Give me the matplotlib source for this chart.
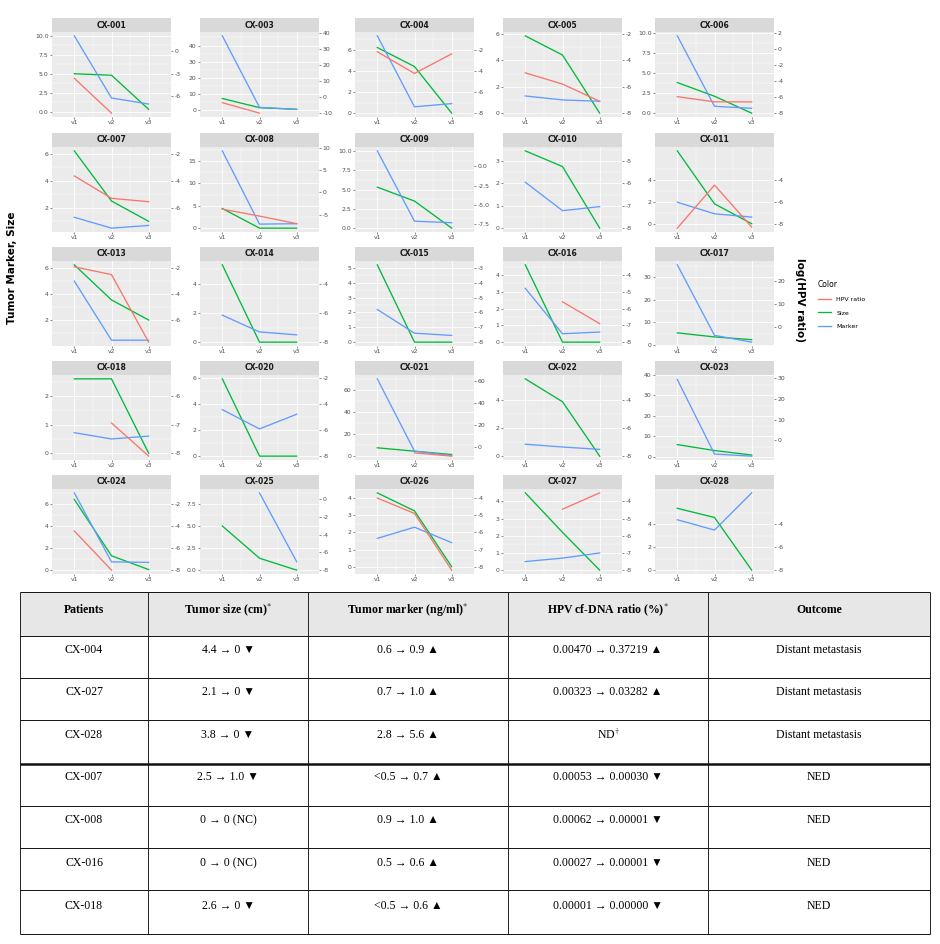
import numpy as np
import matplotlib.pyplot as plt
from matplotlib.lines import Line2D
from matplotlib.patches import Rectangle

nan = np.nan

# ---- chart data ----
patients = ['CX-001', 'CX-003', 'CX-004', 'CX-005', 'CX-006',
            'CX-007', 'CX-008', 'CX-009', 'CX-010', 'CX-011',
            'CX-013', 'CX-014', 'CX-015', 'CX-016', 'CX-017',
            'CX-018', 'CX-020', 'CX-021', 'CX-022', 'CX-023',
            'CX-024', 'CX-025', 'CX-026', 'CX-027', 'CX-028']
visits = ['v1', 'v2', 'v3']

size_vals = [[5.0, 4.8, 0.3], [7.1, 1.4, 0.4], [6.2, 4.4, 0.0], [5.85, 4.4, 0.0], [3.8, 2.1, 0.0],
             [6.2, 2.5, 1.0], [4.4, 0.0, 0.0], [5.3, 3.5, 0.0], [3.45, 2.75, 0.0], [6.6, 1.8, 0.0],
             [6.25, 3.55, 2.0], [5.3, 0.0, 0.0], [5.2, 0.0, 0.0], [4.6, 0.0, 0.0], [5.3, 3.5, 2.3],
             [2.6, 2.6, 0.0], [5.9, 0.0, 0.0], [7.1, 4.0, 1.0], [5.5, 3.87, 0.0], [6.0, 3.1, 0.9],
             [6.4, 1.3, 0.05], [5.0, 1.35, 0.0], [4.3, 3.25, 0.0], [4.5, 2.2, 0.0], [5.4, 4.6, 0.0]]

marker_vals = [[10.0, 1.8, 1.0], [46.0, 1.6, 0.3], [7.3, 0.6, 0.9], [1.3, 1.0, 0.9], [9.6, 0.85, 0.6],
               [1.3, 0.5, 0.7], [17.3, 0.9, 1.0], [10.0, 0.9, 0.7], [2.05, 0.78, 0.96], [1.95, 0.9, 0.6],
               [5.0, 0.45, 0.45], [1.85, 0.7, 0.5], [2.2, 0.6, 0.45], [3.2, 0.5, 0.6], [35.3, 4.2, 1.2],
               [0.72, 0.5, 0.6], [3.55, 2.08, 3.2], [70.0, 4.0, 0.0], [0.85, 0.65, 0.48], [37.8, 1.4, 0.35],
               [7.0, 0.75, 0.7], [nan, 8.75, 0.95], [1.65, 2.3, 1.4], [0.5, 0.7, 1.0], [4.4, 3.5, 6.75]]

hpv_log = [[-3.6, -8.2, nan], [-3.5, -10.0, nan], [-2.2, -4.25, -2.4], [-4.95, -5.8, -7.1], [-5.95, -6.6, -6.6],
           [-3.65, -5.3, -5.55], [-3.75, -5.3, -7.0], [nan, nan, nan], [nan, nan, nan], [-8.4, -4.5, -8.3],
           [-1.9, -2.5, -7.7], [nan, nan, nan], [nan, nan, nan], [nan, -5.6, -6.9], [nan, nan, nan],
           [nan, -6.94, -8.1], [nan, nan, nan], [nan, -5.5, -8.5], [nan, nan, nan], [nan, nan, nan],
           [-4.45, -8.0, nan], [nan, nan, nan], [-4.0, -4.9, -8.2], [nan, -4.45, -3.5], [nan, nan, nan]]

# secondary axis: log(HPV ratio) = left value - 8
HPV_OFFSET = 8

left_ticks = [[0, 2.5, 5, 7.5, 10], [0, 10, 20, 30, 40], [0, 2, 4, 6], [0, 2, 4, 6], [0, 2.5, 5, 7.5, 10],
              [2, 4, 6], [0, 5, 10, 15], [0, 2.5, 5, 7.5, 10], [0, 1, 2, 3], [0, 2, 4],
              [2, 4, 6], [0, 2, 4], [0, 1, 2, 3, 4, 5], [0, 1, 2, 3, 4], [0, 10, 20, 30],
              [0, 1, 2], [0, 2, 4, 6], [0, 20, 40, 60], [0, 2, 4], [0, 10, 20, 30, 40],
              [0, 2, 4, 6], [0, 2.5, 5, 7.5], [0, 1, 2, 3, 4], [0, 1, 2, 3, 4], [0, 2, 4]]
right_ticks = [[-6, -3, 0], [-10, 0, 10, 20, 30, 40], [-8, -6, -4, -2], [-8, -6, -4, -2], [-8, -6, -4, -2, 0, 2],
               [-6, -4, -2], [-5, 0, 5, 10], [-7.5, -5, -2.5, 0], [-8, -7, -6, -5], [-8, -6, -4],
               [-6, -4, -2], [-8, -6, -4], [-8, -7, -6, -5, -4, -3], [-8, -7, -6, -5, -4], [0, 10, 20],
               [-8, -7, -6], [-8, -6, -4, -2], [0, 20, 40, 60], [-8, -6, -4], [0, 10, 20, 30],
               [-8, -6, -4, -2], [-8, -6, -4, -2, 0], [-8, -7, -6, -5, -4], [-8, -7, -6, -5, -4], [-8, -6, -4]]

legend_labels = ['HPV ratio', 'Size', 'Marker']
col_hpv, col_size, col_marker = '#F8766D', '#00BA38', '#619CFF'

# ---- table data ----
tbl_header = ['Patients', 'Tumor size (cm)$^{*}$', 'Tumor marker (ng/ml)$^{*}$',
              'HPV cf-DNA ratio (%)$^{*}$', 'Outcome']
tbl_rows = [
    ['CX-004', '4.4 → 0 ▼', '0.6 → 0.9 ▲', '0.00470 → 0.37219 ▲', 'Distant metastasis'],
    ['CX-027', '2.1 → 0 ▼', '0.7 → 1.0 ▲', '0.00323 → 0.03282 ▲', 'Distant metastasis'],
    ['CX-028', '3.8 → 0 ▼', '2.8 → 5.6 ▲', 'ND$^{\\dagger}$', 'Distant metastasis'],
    ['CX-007', '2.5 → 1.0 ▼', '<0.5 → 0.7 ▲', '0.00053 → 0.00030 ▼', 'NED'],
    ['CX-008', '0 → 0 (NC)', '0.9 → 1.0 ▲', '0.00062 → 0.00001 ▼', 'NED'],
    ['CX-016', '0 → 0 (NC)', '0.5 → 0.6 ▲', '0.00027 → 0.00001 ▼', 'NED'],
    ['CX-018', '2.6 → 0 ▼', '<0.5 → 0.6 ▲', '0.00001 → 0.00000 ▼', 'NED'],
]

plt.rcParams['mathtext.fontset'] = 'stix'

W, H = 940, 944
fig = plt.figure(figsize=(W / 100, H / 100), dpi=100)


def px_rect(x, y, w, h):
    return [x / W, 1 - (y + h) / H, w / W, h / H]


def fmt(ticks):
    if any(float(t) != int(t) for t in ticks):
        return ['%.1f' % t for t in ticks]
    return ['%d' % t for t in ticks]


def minor_of(ticks, lo, hi):
    step = ticks[1] - ticks[0]
    m = np.arange(ticks[0] - step * 1.5, ticks[-1] + step * 2, step)
    return [v for v in m if lo < v < hi]


col_x = [52, 200, 355, 503, 655]
strip_top = [18, 133, 247, 361, 475]
panel_w, strip_h, panel_h = 119, 14, 85
xs = np.arange(1, 4)

for i, name in enumerate(patients):
    r, c = divmod(i, 5)
    ax = fig.add_axes(px_rect(col_x[c], strip_top[r] + strip_h, panel_w, panel_h))
    ax.set_facecolor('#EBEBEB')
    for s in ax.spines.values():
        s.set_visible(False)

    sz = np.array(size_vals[i], dtype=float)
    mk = np.array(marker_vals[i], dtype=float)
    hp = np.array(hpv_log[i], dtype=float)
    allv = np.concatenate([sz, mk, hp + HPV_OFFSET])
    lo, hi = np.nanmin(allv), np.nanmax(allv)
    pad = 0.05 * (hi - lo)
    lo, hi = lo - pad, hi + pad

    ax.plot(xs, sz, color=col_size, lw=0.95, zorder=3)
    ax.plot(xs, mk, color=col_marker, lw=0.95, zorder=4)
    ax.set_xlim(0.4, 3.6)
    ax.set_ylim(lo, hi)
    ax.set_xticks(xs, visits)
    ax.set_xticks([1.5, 2.5], minor=True)
    lt = left_ticks[i]
    ax.set_yticks(lt, fmt(lt))
    ax.set_yticks(minor_of(lt, lo, hi), minor=True)
    ax.grid(which='major', color='white', lw=0.6)
    ax.grid(which='minor', color='white', lw=0.3)
    ax.set_axisbelow(True)
    ax.tick_params(which='major', length=1.5, width=0.4, color='#333333',
                   labelsize=4.4, labelcolor='#4D4D4D', pad=1)
    ax.tick_params(which='minor', length=0)

    tw = ax.twinx()
    tw.set_ylim(lo - HPV_OFFSET, hi - HPV_OFFSET)
    tw.plot(xs, hp, color=col_hpv, lw=0.95)
    rt = right_ticks[i]
    tw.set_yticks(rt, fmt(rt))
    for s in tw.spines.values():
        s.set_visible(False)
    tw.tick_params(length=1.5, width=0.4, color='#333333',
                   labelsize=4.4, labelcolor='#4D4D4D', pad=1)
    tw.tick_params(which='minor', length=0)

    sax = fig.add_axes(px_rect(col_x[c], strip_top[r], panel_w, strip_h))
    sax.set_facecolor('#D9D9D9')
    sax.set_xticks([])
    sax.set_yticks([])
    for s in sax.spines.values():
        s.set_visible(False)
    sax.text(0.5, 0.5, name, ha='center', va='center', fontsize=5.5,
             fontweight='bold', color='#1A1A1A', transform=sax.transAxes)

fig.text(12 / W, 1 - 268 / H, 'Tumor Marker, Size', rotation=90, ha='center', va='center',
         fontsize=7.5, fontweight='bold')
fig.text(800 / W, 1 - 300 / H, 'log(HPV ratio)', rotation=270, ha='center', va='center',
         fontsize=7.5, fontweight='bold')

handles = [Line2D([], [], color=cl, lw=0.95) for cl in (col_hpv, col_size, col_marker)]
fig.legend(handles, legend_labels, title='Color', loc='upper left',
           bbox_to_anchor=(812 / W, 1 - 274 / H), frameon=False, fontsize=4.5,
           title_fontsize=5.5, handlelength=2.2, alignment='left', labelspacing=1.3)

# ---- table ----
tx = fig.add_axes(px_rect(0, 580, W, 364))
tx.set_xlim(0, W)
tx.set_ylim(944, 580)
tx.axis('off')
col_edges = [20, 148, 308, 508, 708, 930]
row_edges = [592, 636, 678, 720, 764, 806, 848, 890, 934]
tx.add_patch(Rectangle((col_edges[0], row_edges[0]), col_edges[-1] - col_edges[0],
                       row_edges[1] - row_edges[0], color='#E7E7E7', lw=0))
tx.vlines(col_edges, row_edges[0], row_edges[-1], color='#222222', lw=0.7)
for k, y in enumerate(row_edges):
    tx.hlines(y, col_edges[0], col_edges[-1], color='#111111', lw=1.8 if k == 4 else 0.7)

tfont = ['Liberation Serif', 'DejaVu Serif']
centers = [(col_edges[j] + col_edges[j + 1]) / 2 for j in range(5)]
for j, h in enumerate(tbl_header):
    tx.text(centers[j], 610, h, ha='center', va='center', fontsize=8.5,
            fontweight='bold', family=tfont)
text_y = [650, 692, 735, 777, 820, 863, 906]
for k, row in enumerate(tbl_rows):
    for j, cell in enumerate(row):
        tx.text(centers[j], text_y[k], cell, ha='center', va='center', fontsize=8.5,
                family=tfont)

fig.savefig('out.png', dpi=100)
